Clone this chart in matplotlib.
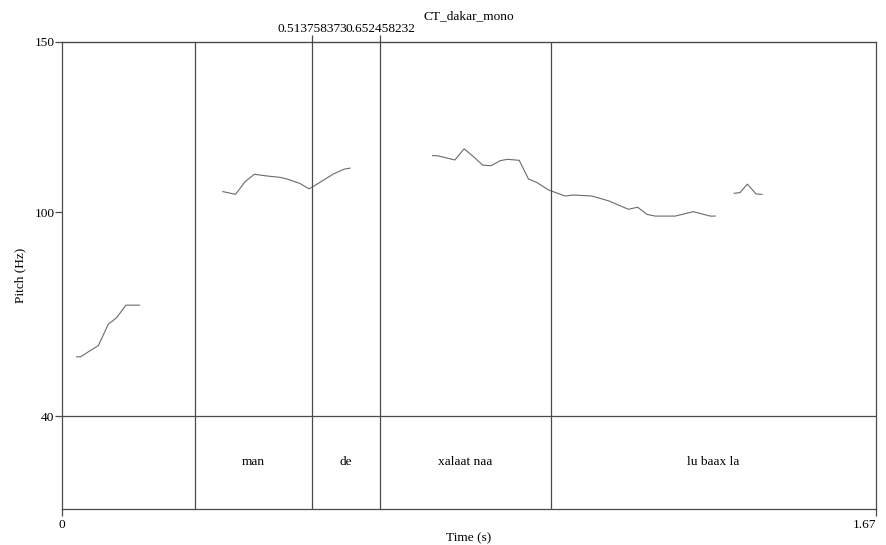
import numpy as np
import matplotlib.pyplot as plt

plt.rcParams['font.family'] = ['Liberation Serif', 'DejaVu Serif']
plt.rcParams['font.size'] = 9.6

# pitch contour (time in s, F0 in Hz), one list per voiced stretch
seg1_t = [0.030, 0.038, 0.0575, 0.0745, 0.095, 0.112, 0.131, 0.159]
seg1_f = [57.4, 57.4, 59.2, 60.7, 67.0, 68.9, 72.6, 72.6]

seg2_t = [0.330, 0.356, 0.3755, 0.3945, 0.420, 0.447, 0.462, 0.488, 0.507,
          0.529, 0.557, 0.579, 0.591]
seg2_f = [106.0, 105.2, 108.9, 111.1, 110.6, 110.2, 109.7, 108.4, 106.8,
          108.7, 111.2, 112.6, 112.9]

seg3_t = [0.7606, 0.772, 0.806, 0.825, 0.844, 0.863, 0.880, 0.899, 0.914,
          0.938, 0.957, 0.974, 0.998, 1.032, 1.049, 1.087, 1.121, 1.162,
          1.181, 1.200, 1.217, 1.258, 1.295, 1.330, 1.340]
seg3_f = [116.6, 116.5, 115.3, 118.6, 116.3, 113.8, 113.6, 115.1, 115.5,
          115.2, 109.7, 108.7, 106.5, 104.7, 105.0, 104.7, 103.3, 100.8,
          101.4, 99.3, 98.8, 98.8, 100.1, 98.8, 98.8]

seg4_t = [1.379, 1.391, 1.406, 1.424, 1.436]
seg4_f = [105.5, 105.7, 108.2, 105.3, 105.2]

segments = [(seg1_t, seg1_f), (seg2_t, seg2_f), (seg3_t, seg3_f), (seg4_t, seg4_f)]

# TextGrid tier
boundaries = [0.273, 0.513758373, 0.652458232, 1.003]
interval_labels = ['man', 'de', 'xalaat naa', 'lu baax la']
marked = [0.513758373, 0.652458232]

t_end = 1.67
f_min, f_max = 40, 150
tier_floor = 12.65

ink = '#4a4a4a'

fig = plt.figure(figsize=(8.86, 5.45), dpi=100)
ax = fig.add_axes([62 / 886, 36 / 545, (876 - 62) / 886, (509 - 42) / 545])

for t, f in segments:
    ax.plot(t, f, color='#6a6a6a', lw=0.8)

for b in boundaries:
    ax.axvline(b, color=ink, lw=0.9)
ax.axhline(f_min, color=ink, lw=0.9)

edges = [0.0] + boundaries + [t_end]
for i, lab in enumerate(interval_labels):
    mid = (edges[i + 1] + edges[i + 2]) / 2
    ax.text(mid, 26.5, lab, ha='center', va='center')

ax.set_xlim(0, t_end)
ax.set_ylim(tier_floor, f_max)
ax.set_xticks([0, t_end])
ax.set_xticklabels(['0', '1.67'])
ax.get_xticklabels()[-1].set_horizontalalignment('right')
ax.set_yticks([40, 100, 150])
ax.tick_params(direction='out', length=5, color=ink, width=0.9, pad=2)
ax.tick_params(axis='y', pad=0.5)
for s in ax.spines.values():
    s.set_color(ink)
    s.set_linewidth(0.9)

top = ax.secondary_xaxis('top')
top.set_xticks(marked)
top.set_xticklabels(['%.9f' % m for m in marked])
top.tick_params(direction='out', length=5, color=ink, width=0.9, pad=0)

ax.set_xlabel('Time (s)', labelpad=1)
ax.set_ylabel('Pitch (Hz)', labelpad=6)
fig.text((62 + 876) / 2 / 886, 1 - 16 / 545, 'CT_dakar_mono', ha='center', va='center')

fig.savefig('out.png', dpi=100)
